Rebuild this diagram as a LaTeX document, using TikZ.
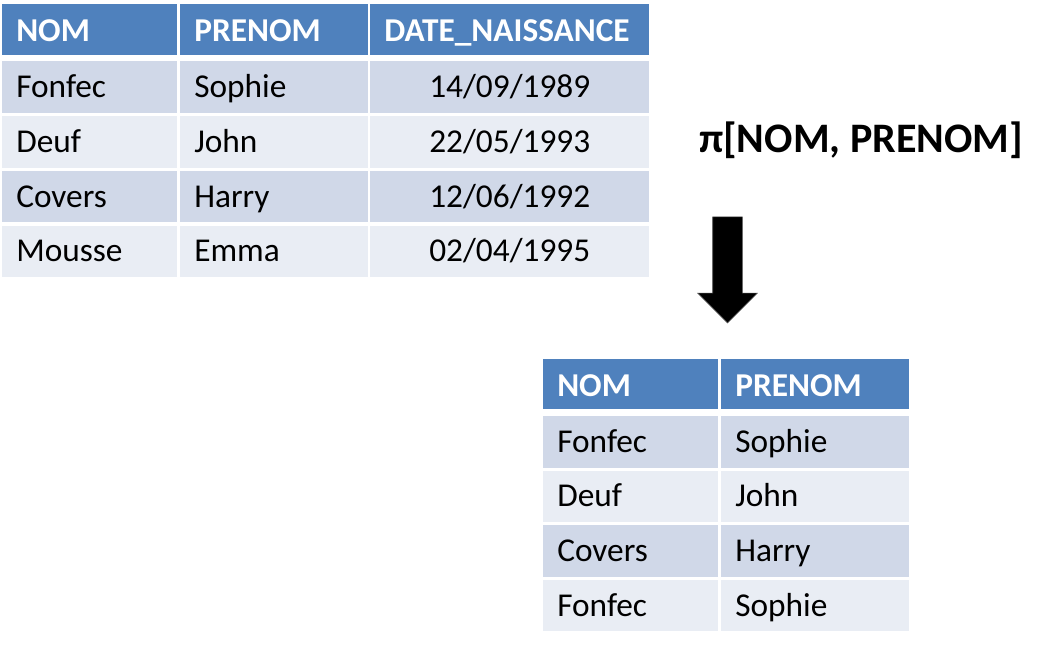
\documentclass[tikz,border=0pt]{standalone}
\usepackage{fontspec}
\setmainfont{Carlito}
\usetikzlibrary{
  shapes.arrows,
  backgrounds
}
\usepackage{xcolor}
\definecolor{headblue}{HTML}{4F81BD}
\definecolor{rowdark}{HTML}{D0D8E8}
\definecolor{rowlight}{HTML}{E9EDF4}

\begin{document}
\begin{tikzpicture}[
  x=0.75pt, y=-0.75pt,
  cell/.style={
    anchor=north west,
    inner xsep=10.5pt,
    inner ysep=0pt,
    minimum height=38.7pt,
    text height=15.8pt,
    text depth=0pt,
    align=left,
    font=\fontsize{25}{29}\selectfont,
  },
  head_cell/.style={cell, fill=headblue, text=white, minimum height=38pt, text height=18.6pt, font=\fontsize{25}{29}\selectfont\bfseries},
  dark_cell/.style={cell, fill=rowdark},
  light_cell/.style={cell, fill=rowlight},
  col_nom/.style={text width=110.25pt},
  col_prenom/.style={text width=119.5pt},
  col_date/.style={text width=188.25pt},
  ]

  \path[use as bounding box] (0,0) rectangle (1064,645);

  \begin{scope}[on background layer]
    \fill[white] (current bounding box.south west) rectangle (current bounding box.north east);
  \end{scope}

  % source relation
  \node[head_cell, col_nom] (src_nom) at (2,4) {NOM};
  \node[head_cell, col_prenom] (src_prenom) at (180,4) {PRENOM};
  \node[head_cell, col_date] (src_date) at (370,4) {DATE\_NAISSANCE};

  \node[dark_cell, col_nom] (src_nom_1) at (2,61) {Fonfec};
  \node[dark_cell, col_prenom] (src_prenom_1) at (180,61) {Sophie};
  \node[dark_cell, col_date, align=center] (src_date_1) at (370,61) {14/09/1989};

  \node[light_cell, col_nom] (src_nom_2) at (2,115.75) {Deuf};
  \node[light_cell, col_prenom] (src_prenom_2) at (180,115.75) {John};
  \node[light_cell, col_date, align=center] (src_date_2) at (370,115.75) {22/05/1993};

  \node[dark_cell, col_nom] (src_nom_3) at (2,170.5) {Covers};
  \node[dark_cell, col_prenom] (src_prenom_3) at (180,170.5) {Harry};
  \node[dark_cell, col_date, align=center] (src_date_3) at (370,170.5) {12/06/1992};

  \node[light_cell, col_nom] (src_nom_4) at (2,225.25) {Mousse};
  \node[light_cell, col_prenom] (src_prenom_4) at (180,225.25) {Emma};
  \node[light_cell, col_date, align=center] (src_date_4) at (370,225.25) {02/04/1995};

  % projection
  \node[font=\fontsize{31.5}{36}\selectfont\bfseries, anchor=base] (proj_label) at (861,153) {π[NOM, PRENOM]};
  \node[single arrow, fill=black, draw=black!70, minimum height=79.5pt, minimum width=44.25pt, single arrow head extend=11.25pt, inner xsep=0pt, inner ysep=10.875pt, rotate=-90] (proj_arrow) at (727.5,262.5) {};

  % result relation
  \node[head_cell, col_nom] (res_nom) at (543,358.3) {NOM};
  \node[head_cell, col_prenom] (res_prenom) at (721,358.3) {PRENOM};

  \node[dark_cell, col_nom] (res_nom_1) at (543,415.7) {Fonfec};
  \node[dark_cell, col_prenom] (res_prenom_1) at (721,415.7) {Sophie};

  \node[light_cell, col_nom] (res_nom_2) at (543,470.3) {Deuf};
  \node[light_cell, col_prenom] (res_prenom_2) at (721,470.3) {John};

  \node[dark_cell, col_nom] (res_nom_3) at (543,524.9) {Covers};
  \node[dark_cell, col_prenom] (res_prenom_3) at (721,524.9) {Harry};

  \node[light_cell, col_nom] (res_nom_4) at (543,579.5) {Fonfec};
  \node[light_cell, col_prenom] (res_prenom_4) at (721,579.5) {Sophie};

\end{tikzpicture}
\end{document}
